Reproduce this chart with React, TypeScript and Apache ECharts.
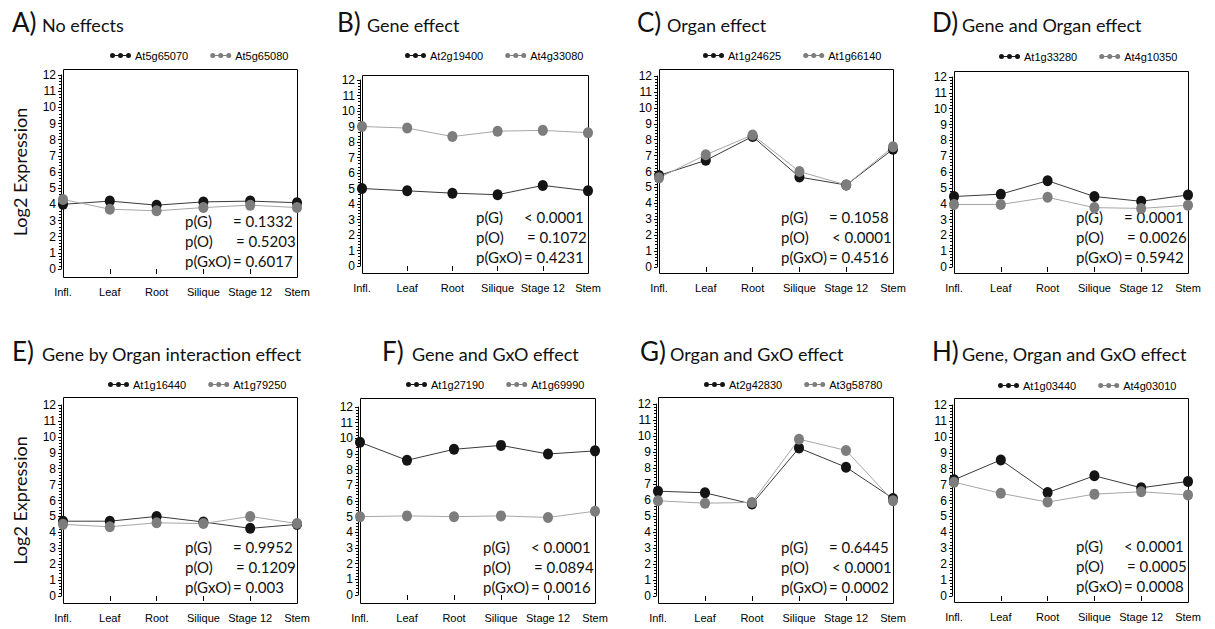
import React, { useEffect, useRef } from "react";
import * as echarts from "echarts";

// ---------- DATA ----------
const categories = ["Infl.", "Leaf", "Root", "Silique", "Stage 12", "Stem"];
const yTicks = [0, 12];

const panelLetters = ["A)", "B)", "C)", "D)", "E)", "F)", "G)", "H)"];
const panelTitles = [
  "No effects",
  "Gene effect",
  "Organ effect",
  "Gene and Organ effect",
  "Gene by Organ interaction effect",
  "Gene and GxO effect",
  "Organ and GxO effect",
  "Gene, Organ and GxO effect",
];

const geneBlack = ["At5g65070", "At2g19400", "At1g24625", "At1g33280", "At1g16440", "At1g27190", "At2g42830", "At1g03440"];
const geneGray = ["At5g65080", "At4g33080", "At1g66140", "At4g10350", "At1g79250", "At1g69990", "At3g58780", "At4g03010"];

const valuesA_black = [4.0, 4.2, 3.95, 4.15, 4.2, 4.1];
const valuesA_gray = [4.3, 3.7, 3.6, 3.8, 3.95, 3.8];
const valuesB_black = [5.0, 4.85, 4.7, 4.6, 5.2, 4.85];
const valuesB_gray = [9.0, 8.9, 8.35, 8.7, 8.75, 8.6];
const valuesC_black = [5.75, 6.7, 8.2, 5.65, 5.15, 7.4];
const valuesC_gray = [5.6, 7.05, 8.3, 6.0, 5.15, 7.55];
const valuesD_black = [4.45, 4.6, 5.45, 4.45, 4.15, 4.55];
const valuesD_gray = [3.95, 3.95, 4.4, 3.75, 3.7, 3.9];
const valuesE_black = [4.7, 4.7, 5.0, 4.65, 4.25, 4.5];
const valuesE_gray = [4.5, 4.35, 4.6, 4.55, 5.0, 4.55];
const valuesF_black = [9.75, 8.6, 9.3, 9.55, 9.0, 9.2];
const valuesF_gray = [5.0, 5.05, 5.0, 5.05, 4.95, 5.35];
const valuesG_black = [6.55, 6.45, 5.75, 9.25, 8.05, 6.1];
const valuesG_gray = [5.95, 5.8, 5.85, 9.8, 9.1, 5.95];
const valuesH_black = [7.3, 8.55, 6.5, 7.55, 6.8, 7.2];
const valuesH_gray = [7.15, 6.45, 5.9, 6.4, 6.55, 6.35];

const blackValues = [valuesA_black, valuesB_black, valuesC_black, valuesD_black, valuesE_black, valuesF_black, valuesG_black, valuesH_black];
const grayValues = [valuesA_gray, valuesB_gray, valuesC_gray, valuesD_gray, valuesE_gray, valuesF_gray, valuesG_gray, valuesH_gray];

const pGLabels = ["= 0.1332", "< 0.0001", "= 0.1058", "= 0.0001", "= 0.9952", "< 0.0001", "= 0.6445", "< 0.0001"];
const pOLabels = ["= 0.5203", "= 0.1072", "< 0.0001", "= 0.0026", "= 0.1209", "= 0.0894", "< 0.0001", "= 0.0005"];
const pGxOLabels = ["= 0.6017", "= 0.4231", "= 0.4516", "= 0.5942", "= 0.003", "= 0.0016", "= 0.0002", "= 0.0008"];
const pNames = ["p(G)", "p(O)", "p(GxO)"];

// ---------- LAYOUT ----------
const boxes = [
  { l: 63, t: 69, r: 297, b: 277, y12: 75, y0: 269 },
  { l: 362, t: 75, r: 588, b: 273, y12: 80, y0: 266 },
  { l: 659, t: 69, r: 893, b: 273, y12: 76, y0: 267 },
  { l: 954, t: 71, r: 1188, b: 273, y12: 77, y0: 267 },
  { l: 63, t: 397, r: 297, b: 603, y12: 405, y0: 596 },
  { l: 360, t: 398, r: 595, b: 603, y12: 407, y0: 595 },
  { l: 658, t: 397, r: 893, b: 603, y12: 404, y0: 596 },
  { l: 954, t: 398, r: 1188, b: 602, y12: 405, y0: 596 },
];
const titleX = [12, 337, 637, 932, 12, 382, 640, 932];
const titleY = [22, 22, 22, 22, 351, 351, 351, 351];
const legendX = [110, 405, 703, 999, 108, 406, 704, 998];
const legendY = [57, 57, 57, 58, 386, 386, 386, 387];

const NARROW = "'Liberation Sans', Arial, sans-serif";
const SANS = "Lato, 'Open Sans', sans-serif";
const BLACK = "#141414";
const BLACK_LINE = "#3a3a3a";
const GRAY = "#7d7d7d";
const GRAY_LINE = "#a6a6a6";

const ICON =
  "path://M0,2.5A2.5,2.5,0,1,1,5,2.5A2.5,2.5,0,1,1,0,2.5Z M8,2.5A2.5,2.5,0,1,1,13,2.5A2.5,2.5,0,1,1,8,2.5Z M16,2.5A2.5,2.5,0,1,1,21,2.5A2.5,2.5,0,1,1,16,2.5Z M5,2H8V3H5Z M13,2H16V3H13Z";

function buildOption() {
  const grid: any[] = [];
  const xAxis: any[] = [];
  const yAxis: any[] = [];
  const series: any[] = [];
  const legend: any[] = [];
  const graphic: any[] = [];

  boxes.forEach((bx, i) => {
    grid.push({
      left: bx.l,
      top: bx.y12,
      width: bx.r - bx.l,
      height: bx.y0 - bx.y12,
      containLabel: false,
    });
    xAxis.push({
      type: "category",
      gridIndex: i,
      data: categories,
      boundaryGap: false,
      offset: bx.b - bx.y0,
      axisLine: { show: false },
      axisTick: { show: true, length: 5, lineStyle: { color: "#000", width: 1 } },
      axisLabel: { interval: 0, fontFamily: NARROW, fontSize: 11, color: "#000", margin: 9 },
      splitLine: { show: false },
    });
    yAxis.push({
      type: "value",
      gridIndex: i,
      min: yTicks[0],
      max: yTicks[1],
      interval: 1,
      offset: 2,
      axisLine: { show: true, lineStyle: { color: "#000", width: 1 } },
      axisTick: { show: true, length: 3, lineStyle: { color: "#000", width: 1 } },
      minorTick: { show: true, splitNumber: 5, length: 2, lineStyle: { color: "#000", width: 1 } },
      axisLabel: { fontFamily: NARROW, fontSize: 12, color: "#000", margin: 5 },
      splitLine: { show: false },
      minorSplitLine: { show: false },
    });
    series.push({
      type: "line",
      name: geneBlack[i],
      xAxisIndex: i,
      yAxisIndex: i,
      data: blackValues[i],
      symbol: "circle",
      symbolSize: [10, 11],
      itemStyle: { color: BLACK },
      lineStyle: { color: BLACK_LINE, width: 1 },
    });
    series.push({
      type: "line",
      name: geneGray[i],
      xAxisIndex: i,
      yAxisIndex: i,
      data: grayValues[i],
      symbol: "circle",
      symbolSize: [10, 11],
      itemStyle: { color: GRAY },
      lineStyle: { color: GRAY_LINE, width: 1 },
    });
    legend.push({
      left: legendX[i],
      top: legendY[i] - 7,
      padding: 0,
      itemGap: 22,
      itemWidth: 21,
      itemHeight: 5,
      selectedMode: false,
      icon: ICON,
      data: [geneBlack[i], geneGray[i]],
      itemStyle: { borderWidth: 0 },
      lineStyle: { width: 0 },
      textStyle: { fontFamily: NARROW, fontSize: 11, color: "#000", padding: [0, 0, 0, -1] },
    });
    // frame
    graphic.push({
      type: "rect",
      shape: { x: bx.l + 0.5, y: bx.t + 0.5, width: bx.r - bx.l, height: bx.b - bx.t },
      style: { fill: "none", stroke: "#000", lineWidth: 1 },
      silent: true,
    });
    // title
    graphic.push({
      type: "text",
      x: titleX[i],
      y: titleY[i],
      style: { text: panelLetters[i], font: `26px ${SANS}`, fill: "#111", verticalAlign: "middle", align: "left" },
    });
    graphic.push({
      type: "text",
      x: titleX[i] + 30,
      y: titleY[i] + 3,
      style: { text: panelTitles[i], font: `18px ${SANS}`, fill: "#111", verticalAlign: "middle", align: "left" },
    });
    // p values
    const pVals = [pGLabels[i], pOLabels[i], pGxOLabels[i]];
    pVals.forEach((v, k) => {
      const yy = bx.b - 56 + k * 20;
      graphic.push({
        type: "text",
        x: bx.r - 112,
        y: yy,
        style: { text: pNames[k], font: `15px ${SANS}`, fill: "#111", verticalAlign: "middle", align: "left" },
      });
      graphic.push({
        type: "text",
        x: bx.r - 64 + (k === 1 ? 3 : 0),
        y: yy,
        style: { text: v, font: `15px ${SANS}`, fill: "#111", verticalAlign: "middle", align: "left" },
      });
    });
  });

  // y-axis names
  [0, 4].forEach((i) => {
    const bx = boxes[i];
    graphic.push({
      type: "text",
      x: 20,
      y: (bx.y12 + bx.y0) / 2,
      rotation: Math.PI / 2,
      style: { text: "Log2 Expression", font: `18px ${SANS}`, fill: "#111", align: "center", verticalAlign: "middle" },
    });
  });

  return {
    animation: false,
    backgroundColor: "#fff",
    grid,
    xAxis,
    yAxis,
    series,
    legend,
    graphic,
  };
}

export default function App() {
  const ref = useRef<HTMLDivElement>(null);
  useEffect(() => {
    if (!ref.current) return;
    const chart = echarts.init(ref.current, undefined, { renderer: "svg" });
    chart.setOption(buildOption() as any);
    return () => chart.dispose();
  }, []);
  return (
    <div
      ref={ref}
      style={{ position: "fixed", left: 0, top: 0, width: 1215, height: 629, background: "#fff" }}
    />
  );
}
